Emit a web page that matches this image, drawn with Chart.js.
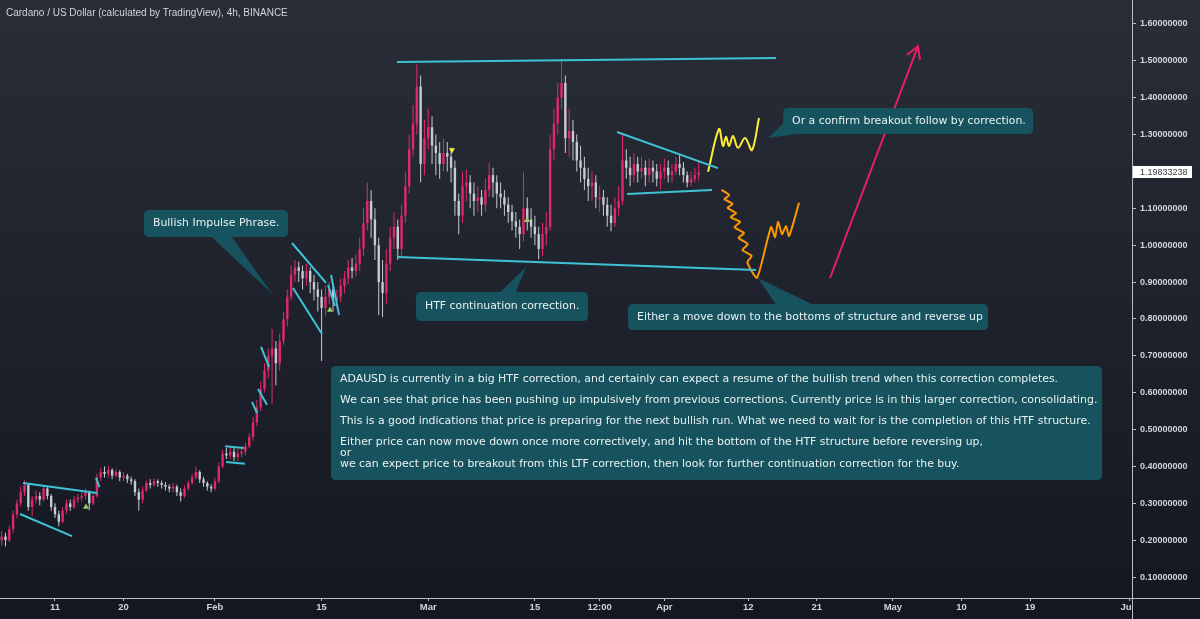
<!DOCTYPE html>
<html>
<head>
<meta charset="utf-8">
<title>Cardano / US Dollar 4h</title>
<script src="https://cdn.jsdelivr.net/npm/chart.js@4.4.1/dist/chart.umd.min.js"></script>
<style>
  html, body { margin: 0; padding: 0; background: #1c1f29; }
  #wrap { position: relative; width: 1200px; height: 619px; }
</style>
</head>
<body>
<div id="wrap"><canvas id="adaChart"></canvas></div>
<script>
// x axis = days since Jan 1 2021, candles are 12h, first opens Jan 4 00:00
const firstDay = 3;
const candleStep = 0.5;

const opens = [
  0.20,0.21,0.20,0.23,0.27,0.30,0.33,0.35,0.29,0.31,
  0.32,0.31,0.34,0.32,0.29,0.27,0.25,0.28,0.30,0.29,
  0.31,0.315,0.32,0.33,0.30,0.32,0.37,0.385,0.38,0.39,
  0.375,0.385,0.37,0.375,0.365,0.36,0.33,0.31,0.335,0.355,
  0.35,0.36,0.355,0.35,0.345,0.34,0.345,0.33,0.32,0.34,
  0.355,0.37,0.385,0.365,0.355,0.345,0.34,0.36,0.40,0.435,
  0.43,0.44,0.425,0.435,0.44,0.455,0.48,0.52,0.56,0.61,
  0.66,0.70,0.72,0.68,0.74,0.80,0.86,0.92,0.94,0.93,
  0.91,0.93,0.90,0.88,0.86,0.83,0.86,0.88,0.85,0.86,
  0.89,0.91,0.94,0.93,0.95,0.99,1.06,1.12,1.07,1.00,
  0.90,0.87,0.95,1.02,1.05,0.99,1.08,1.16,1.26,1.33,
  1.43,1.22,1.29,1.32,1.27,1.25,1.22,1.25,1.24,1.21,
  1.12,1.08,1.16,1.17,1.14,1.12,1.13,1.11,1.15,1.19,
  1.17,1.14,1.13,1.11,1.09,1.065,1.05,1.03,1.10,1.07,
  1.05,1.03,0.99,1.03,1.05,1.26,1.33,1.40,1.44,1.29,
  1.31,1.28,1.23,1.21,1.18,1.16,1.17,1.125,1.13,1.11,
  1.08,1.06,1.10,1.12,1.23,1.21,1.19,1.22,1.20,1.21,
  1.19,1.21,1.20,1.18,1.20,1.21,1.19,1.20,1.22,1.21,
  1.19,1.17,1.18,1.19
];
const highs = [
  0.225,0.22,0.24,0.28,0.31,0.345,0.362,0.355,0.32,0.335,
  0.33,0.348,0.345,0.325,0.30,0.28,0.29,0.31,0.31,0.32,
  0.325,0.33,0.34,0.335,0.33,0.38,0.395,0.40,0.402,0.395,
  0.392,0.39,0.385,0.38,0.372,0.365,0.34,0.345,0.362,0.365,
  0.368,0.365,0.362,0.358,0.352,0.355,0.35,0.34,0.348,0.362,
  0.38,0.40,0.39,0.372,0.36,0.352,0.37,0.41,0.445,0.45,
  0.455,0.45,0.448,0.455,0.465,0.49,0.535,0.58,0.63,0.68,
  0.72,0.773,0.74,0.76,0.82,0.88,0.945,0.96,0.955,0.945,
  0.95,0.94,0.92,0.90,0.88,0.89,0.90,0.895,0.88,0.91,
  0.93,0.96,0.965,0.975,1.02,1.10,1.17,1.15,1.10,1.02,
  0.96,0.99,1.05,1.09,1.07,1.11,1.20,1.30,1.38,1.49,
  1.46,1.34,1.37,1.35,1.30,1.28,1.29,1.28,1.265,1.23,
  1.14,1.20,1.205,1.19,1.17,1.16,1.15,1.18,1.224,1.21,
  1.19,1.17,1.15,1.13,1.11,1.09,1.07,1.197,1.13,1.10,
  1.08,1.05,1.06,1.09,1.30,1.37,1.44,1.503,1.46,1.37,
  1.34,1.30,1.27,1.24,1.21,1.20,1.19,1.16,1.15,1.13,
  1.11,1.13,1.16,1.305,1.26,1.24,1.25,1.24,1.24,1.23,
  1.235,1.23,1.22,1.22,1.235,1.23,1.22,1.24,1.246,1.225,
  1.20,1.20,1.21,1.227
];
const lows = [
  0.185,0.183,0.195,0.22,0.26,0.29,0.32,0.28,0.265,0.30,
  0.295,0.305,0.31,0.28,0.26,0.238,0.245,0.27,0.28,0.285,
  0.30,0.305,0.31,0.281,0.295,0.315,0.36,0.37,0.37,0.365,
  0.37,0.36,0.36,0.355,0.35,0.32,0.28,0.30,0.33,0.34,
  0.345,0.345,0.34,0.335,0.33,0.33,0.32,0.305,0.315,0.335,
  0.35,0.365,0.355,0.345,0.335,0.33,0.335,0.355,0.395,0.42,
  0.42,0.415,0.415,0.425,0.43,0.45,0.47,0.51,0.55,0.60,
  0.64,0.57,0.62,0.66,0.73,0.78,0.85,0.90,0.90,0.88,
  0.89,0.87,0.85,0.82,0.686,0.81,0.84,0.82,0.83,0.845,
  0.87,0.895,0.91,0.915,0.93,0.97,1.04,1.02,0.96,0.81,
  0.805,0.84,0.93,0.99,0.96,0.97,1.06,1.14,1.24,1.30,
  1.17,1.19,1.26,1.22,1.19,1.18,1.20,1.20,1.17,1.08,
  1.03,1.06,1.12,1.10,1.08,1.09,1.08,1.09,1.13,1.13,
  1.10,1.10,1.08,1.06,1.04,1.02,0.99,1.01,1.04,1.02,
  1.00,0.962,0.97,1.00,1.04,1.23,1.30,1.37,1.25,1.24,
  1.23,1.20,1.17,1.15,1.12,1.12,1.10,1.09,1.08,1.05,
  1.038,1.05,1.08,1.11,1.18,1.16,1.17,1.17,1.18,1.16,
  1.17,1.17,1.16,1.151,1.18,1.17,1.17,1.19,1.19,1.17,
  1.157,1.16,1.17,1.175
];
const closes = [
  0.21,0.20,0.23,0.27,0.30,0.33,0.35,0.29,0.31,0.32,
  0.31,0.34,0.32,0.29,0.27,0.25,0.28,0.30,0.29,0.31,
  0.315,0.32,0.33,0.30,0.32,0.37,0.385,0.38,0.39,0.375,
  0.385,0.37,0.375,0.365,0.36,0.33,0.31,0.335,0.355,0.35,
  0.36,0.355,0.35,0.345,0.34,0.345,0.33,0.32,0.34,0.355,
  0.37,0.385,0.365,0.355,0.345,0.34,0.36,0.40,0.435,0.43,
  0.44,0.425,0.435,0.44,0.455,0.48,0.52,0.56,0.61,0.66,
  0.70,0.72,0.68,0.74,0.80,0.86,0.92,0.94,0.93,0.91,
  0.93,0.90,0.88,0.86,0.83,0.86,0.88,0.85,0.86,0.89,
  0.91,0.94,0.93,0.95,0.99,1.06,1.12,1.07,1.00,0.90,
  0.87,0.95,1.02,1.05,0.99,1.08,1.16,1.26,1.33,1.43,
  1.22,1.29,1.32,1.27,1.25,1.22,1.25,1.24,1.21,1.12,
  1.08,1.16,1.17,1.14,1.12,1.13,1.11,1.15,1.19,1.17,
  1.14,1.13,1.11,1.09,1.065,1.05,1.03,1.10,1.07,1.05,
  1.03,0.99,1.03,1.05,1.26,1.33,1.40,1.44,1.29,1.31,
  1.28,1.23,1.21,1.18,1.16,1.17,1.13,1.13,1.11,1.08,
  1.06,1.10,1.12,1.23,1.21,1.19,1.22,1.20,1.21,1.19,
  1.21,1.20,1.18,1.20,1.21,1.19,1.20,1.22,1.21,1.19,
  1.17,1.18,1.19,1.198
];
const lastPrice = 1.19833238;

const xTickDays = [10, 19, 31, 45, 59, 73, 81.5, 90, 101, 110, 120, 129, 138, 151];
const xTickLabels = ['11', '20', 'Feb', '15', 'Mar', '15', '12:00', 'Apr', '12', '21', 'May', '10', '19', 'Jun'];
const yTicks = [0.1, 0.2, 0.3, 0.4, 0.5, 0.6, 0.7, 0.8, 0.9, 1.0, 1.1, 1.2, 1.3, 1.4, 1.5, 1.6];

// drawings on the chart, [day, price]
const cyanLines = [
  [[5.80, 0.355], [15.51, 0.328]],
  [[5.40, 0.271], [12.23, 0.211]],
  [[15.38, 0.369], [15.84, 0.344]],
  [[32.32, 0.455], [34.81, 0.450]],
  [[32.45, 0.412], [34.94, 0.407]],
  [[37.05, 0.724], [38.10, 0.670]],
  [[36.65, 0.610], [37.83, 0.567]],
  [[35.86, 0.575], [36.52, 0.545]],
  [[41.11, 1.006], [45.58, 0.898]],
  [[41.25, 0.884], [45.05, 0.759]],
  [[46.24, 0.919], [47.29, 0.811]],
  [[45.84, 0.892], [46.76, 0.835]],
  [[54.90, 1.497], [104.66, 1.508]],
  [[54.90, 0.968], [102.03, 0.933]],
  [[83.78, 1.307], [97.04, 1.209]],
  [[85.10, 1.139], [96.25, 1.150]]
];
const yellowPath = [
  [95.73, 1.199], [97.17, 1.315], [97.70, 1.269], [98.09, 1.294], [98.49, 1.269],
  [99.01, 1.296], [99.67, 1.264], [100.59, 1.291], [101.50, 1.258], [102.42, 1.345]
];
const orangePath = [
  [97.50, 1.150], [98.50, 1.136], [97.90, 1.125], [98.95, 1.112], [98.30, 1.101],
  [99.40, 1.087], [98.70, 1.076], [99.95, 1.063], [99.20, 1.049], [100.45, 1.033],
  [99.75, 1.020], [100.95, 1.003], [100.25, 0.987], [101.45, 0.971], [100.90, 0.954],
  [102.16, 0.912], [104.00, 1.049], [104.53, 1.022], [104.92, 1.063], [105.45, 1.030],
  [105.97, 1.052], [106.37, 1.025], [107.68, 1.115]
];
const arrowLine = [[111.75, 0.911], [123.30, 1.540]];
const arrowHead = [[121.85, 1.516], [123.30, 1.540], [123.56, 1.502]];
const upMarks = [[14.07, 0.290], [46.10, 0.824], [71.97, 1.068]];
const downMarks = [[62.12, 1.258]];

const notes = [
  { lines: ['Bullish Impulse Phrase.'], box: [21.68, 1.0955, 40.59, 1.0223],
    tip: [38.49, 0.868], base: [[0.47, 1], [0.61, 1]] },
  { lines: ['HTF continuation correction.'], box: [57.39, 0.873, 79.98, 0.7945],
    tip: [71.84, 0.941], base: [[0.49, 0], [0.58, 0]] },
  { lines: ['Either a move down to the bottoms of structure and reverse up'], box: [85.23, 0.8406, 132.49, 0.770],
    tip: [102.29, 0.911], base: [[0.41, 0], [0.51, 0]] },
  { lines: ['Or a confirm breakout follow by correction.'], box: [105.58, 1.3722, 138.40, 1.3017],
    tip: [103.61, 1.291], base: [[0, 0.6], [0.055, 1]] },
  { lines: [
      'ADAUSD is currently in a big HTF correction, and certainly can expect a resume of the bullish trend when this correction completes.',
      '',
      'We can see that price has been pushing up impulsively from previous corrections. Currently price is in this larger correction, consolidating.',
      '',
      'This is a good indications that price is preparing for the next bullish run. What we need to wait for is the completion of this HTF structure.',
      '',
      'Either price can now move down once more correctively, and hit the bottom of the HTF structure before reversing up,',
      'or',
      'we can expect price to breakout from this LTF correction, then look for further continuation correction for the buy.'
    ], box: [46.24, 0.6724, 147.46, 0.3632], first: 13, lh: 10.6 }
];

const titleText = 'Cardano / US Dollar (calculated by TradingView), 4h, BINANCE';

const upColor = '#e0296a';
const downColor = '#c6cad2';
const cyan = '#3ec3d6';
const noteFill = '#17535e';
const noteFont = '10.9px "DejaVu Sans"';
const axisText = '#d1d4dc';
const axisLine = '#b8bcc4';

const days = closes.map((c, i) => firstDay + i * candleStep);
const candleColors = closes.map((c, i) => c >= opens[i] ? upColor : downColor);

function withGaps(lines) {
  const out = [];
  lines.forEach(seg => {
    seg.forEach(p => out.push({ x: p[0], y: p[1] }));
    out.push({ x: seg[seg.length - 1][0], y: null });
  });
  return out;
}
function pts(list) {
  return list.map(p => ({ x: p[0], y: p[1] }));
}

function bgGradient(ctx, h) {
  const g = ctx.createLinearGradient(0, 0, 0, h);
  g.addColorStop(0, '#292d38');
  g.addColorStop(1, '#141721');
  return g;
}

function roundBox(ctx, x, y, w, h, r) {
  ctx.beginPath();
  ctx.moveTo(x + r, y);
  ctx.lineTo(x + w - r, y);
  ctx.quadraticCurveTo(x + w, y, x + w, y + r);
  ctx.lineTo(x + w, y + h - r);
  ctx.quadraticCurveTo(x + w, y + h, x + w - r, y + h);
  ctx.lineTo(x + r, y + h);
  ctx.quadraticCurveTo(x, y + h, x, y + h - r);
  ctx.lineTo(x, y + r);
  ctx.quadraticCurveTo(x, y, x + r, y);
  ctx.closePath();
}

const tvPlugin = {
  id: 'tv',
  beforeDraw(chart) {
    const ctx = chart.ctx;
    ctx.save();
    ctx.fillStyle = bgGradient(ctx, chart.height);
    ctx.fillRect(0, 0, chart.width, chart.height);
    ctx.restore();
  },
  afterDatasetsDraw(chart) {
    const ctx = chart.ctx;
    const x = chart.scales.x, y = chart.scales.y;
    ctx.save();
    ctx.font = noteFont;
    ctx.textBaseline = 'middle';
    notes.forEach(n => {
      const l = x.getPixelForValue(n.box[0]), t = y.getPixelForValue(n.box[1]);
      const r = x.getPixelForValue(n.box[2]), b = y.getPixelForValue(n.box[3]);
      const w = r - l, h = b - t;
      ctx.fillStyle = noteFill;
      if (n.tip) {
        ctx.beginPath();
        ctx.moveTo(l + n.base[0][0] * w, t + n.base[0][1] * h);
        ctx.lineTo(x.getPixelForValue(n.tip[0]), y.getPixelForValue(n.tip[1]));
        ctx.lineTo(l + n.base[1][0] * w, t + n.base[1][1] * h);
        ctx.closePath();
        ctx.fill();
      }
      roundBox(ctx, l, t, w, h, 5);
      ctx.fill();
      ctx.fillStyle = '#e9f1f2';
      const first = n.first || h / 2;
      const lh = n.lh || 0;
      n.lines.forEach((s, k) => ctx.fillText(s, l + 9, t + first + k * lh));
    });
    ctx.font = '10px "Liberation Sans"';
    ctx.fillStyle = axisText;
    ctx.fillText(titleText, 6, 13);
    ctx.restore();
  },
  afterDraw(chart) {
    const ctx = chart.ctx;
    const area = chart.chartArea;
    const y = chart.scales.y;
    ctx.save();
    // price panel hides what spills past the plot
    ctx.fillStyle = bgGradient(ctx, chart.height);
    ctx.fillRect(area.right + 1, area.bottom + 1, chart.width - area.right, chart.height - area.bottom);
    ctx.strokeStyle = axisLine;
    ctx.lineWidth = 1;
    ctx.beginPath();
    ctx.moveTo(0, area.bottom + 0.5);
    ctx.lineTo(chart.width, area.bottom + 0.5);
    ctx.moveTo(area.right + 0.5, 0);
    ctx.lineTo(area.right + 0.5, chart.height);
    ctx.stroke();
    // last price tag
    const py = Math.round(y.getPixelForValue(lastPrice));
    ctx.fillStyle = '#ffffff';
    ctx.fillRect(area.right + 1, py - 6, 59, 12);
    ctx.fillStyle = '#3a3d45';
    ctx.font = '9px "Liberation Sans"';
    ctx.textBaseline = 'middle';
    ctx.fillText(lastPrice.toFixed(8), area.right + 8, py + 0.5);
    ctx.restore();
  }
};

Chart.defaults.font.family = '"Liberation Sans", Arial, sans-serif';

new Chart(document.getElementById('adaChart'), {
  type: 'bar',
  data: {
    datasets: [
      {
        type: 'line', data: withGaps(cyanLines), borderColor: cyan, borderWidth: 2,
        pointRadius: 0, tension: 0, spanGaps: false, order: 1
      },
      {
        type: 'line', data: pts(yellowPath), borderColor: '#ffeb3b', borderWidth: 2,
        pointRadius: 0, tension: 0.35, order: 1
      },
      {
        type: 'line', data: pts(orangePath), borderColor: '#ff9800', borderWidth: 2,
        pointRadius: 0, tension: 0.2, order: 1
      },
      {
        type: 'line', data: pts(arrowLine), borderColor: '#e91e63', borderWidth: 2,
        pointRadius: 0, tension: 0, order: 1
      },
      {
        type: 'line', data: pts(arrowHead), borderColor: '#e91e63', borderWidth: 2,
        pointRadius: 0, tension: 0, order: 1
      },
      {
        type: 'line', data: pts(upMarks), showLine: false, pointStyle: 'triangle',
        pointRadius: 3.5, pointBackgroundColor: '#9ccc65', pointBorderWidth: 0, order: 2
      },
      {
        type: 'line', data: pts(downMarks), showLine: false, pointStyle: 'triangle', pointRotation: 180,
        pointRadius: 3.5, pointBackgroundColor: '#ffeb3b', pointBorderWidth: 0, order: 2
      },
      {
        type: 'bar', data: days.map((d, i) => ({ x: d, y: [opens[i], closes[i]] })),
        backgroundColor: candleColors, barThickness: 2.4, grouped: false, inflateAmount: 0, order: 5
      },
      {
        type: 'bar', data: days.map((d, i) => ({ x: d, y: [lows[i], highs[i]] })),
        backgroundColor: candleColors, barThickness: 1, grouped: false, inflateAmount: 0, order: 6
      }
    ]
  },
  options: {
    responsive: true,
    maintainAspectRatio: false,
    animation: false,
    layout: { padding: 0, autoPadding: false },
    plugins: { legend: { display: false }, tooltip: { enabled: false } },
    scales: {
      x: {
        type: 'linear',
        min: 2.78,
        max: 151.39,
        offset: false,
        afterFit: s => { s.height = 21; s.paddingLeft = 0; s.paddingRight = 0; },
        afterBuildTicks: s => { s.ticks = xTickDays.map(v => ({ value: v })); },
        grid: { display: true, offset: false, drawOnChartArea: false, drawTicks: true, tickLength: 3, color: axisLine },
        border: { display: false },
        ticks: {
          autoSkip: false, maxRotation: 0, padding: 1, color: axisText,
          font: { size: 9.5, weight: 'bold' },
          callback: v => {
            const k = xTickDays.indexOf(v);
            return k < 0 ? '' : xTickLabels[k];
          }
        }
      },
      y: {
        type: 'linear',
        position: 'right',
        min: 0.0432,
        max: 1.665,
        afterFit: s => { s.width = 68; s.paddingTop = 0; s.paddingBottom = 0; },
        afterBuildTicks: s => { s.ticks = yTicks.map(v => ({ value: v })); },
        grid: { display: true, drawOnChartArea: false, drawTicks: true, tickLength: 4, color: axisLine },
        border: { display: false },
        ticks: {
          autoSkip: false, padding: 4, crossAlign: 'near', color: axisText,
          font: { size: 9, weight: 'bold' },
          callback: v => v.toFixed(8)
        }
      }
    }
  },
  plugins: [tvPlugin]
});
</script>
</body>
</html>
